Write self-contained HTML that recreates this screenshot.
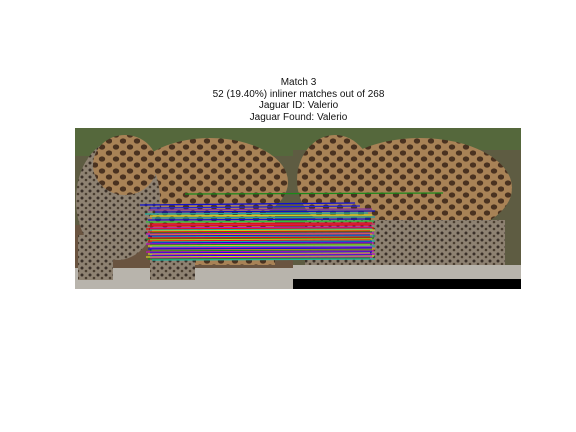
<!DOCTYPE html>
<html><head><meta charset="utf-8"><style>
html,body{margin:0;padding:0;background:#fff}
#c{position:relative;width:576px;height:432px;background:#fff;font-family:"Liberation Sans",sans-serif}
.t{position:absolute;left:0;width:597px;text-align:center;font-size:10px;color:#111;line-height:11.5px}
</style></head><body>
<div id="c">
<div class="t" style="top:77px">Match 3<br>52 (19.40%) inliner matches out of 268<br>Jaguar ID: Valerio<br>Jaguar Found: Valerio</div>
<svg id="s" width="576" height="432" style="position:absolute;left:0;top:0">
<defs>
<pattern id="spots" width="14" height="12" patternUnits="userSpaceOnUse">
<rect width="14" height="12" fill="#a88256"/>
<ellipse cx="4" cy="3" rx="3.2" ry="2.6" fill="#4a3220"/>
<ellipse cx="11" cy="9" rx="3.2" ry="2.6" fill="#4a3220"/>
</pattern>
<pattern id="spots2" width="8" height="7" patternUnits="userSpaceOnUse">
<rect width="8" height="7" fill="#8e8272"/><circle cx="2" cy="2" r="1.5" fill="#3a3028"/><circle cx="6" cy="5" r="1.3" fill="#4a3e30"/>
</pattern>
</defs>
<g>
<rect x="75" y="128" width="218" height="161" fill="#5e5c42"/>
<rect x="75" y="128" width="218" height="28" fill="#55683c"/>
<rect x="75" y="225" width="218" height="45" fill="#6a5440"/>
<ellipse cx="210" cy="182" rx="78" ry="44" fill="url(#spots)"/>
<ellipse cx="118" cy="200" rx="42" ry="60" fill="url(#spots2)"/>
<ellipse cx="125" cy="165" rx="32" ry="30" fill="url(#spots)"/>
<rect x="150" y="215" width="125" height="50" fill="url(#spots)"/>
<rect x="75" y="268" width="218" height="21" fill="#b8b4ac"/>
<rect x="78" y="235" width="35" height="45" fill="url(#spots2)"/>
<rect x="150" y="245" width="45" height="35" fill="url(#spots2)"/>
</g>
<g>
<rect x="293" y="128" width="228" height="151" fill="#5e5c42"/>
<rect x="293" y="128" width="228" height="22" fill="#55683c"/>
<ellipse cx="420" cy="188" rx="92" ry="50" fill="url(#spots)"/>
<ellipse cx="335" cy="180" rx="38" ry="45" fill="url(#spots)"/>
<rect x="305" y="220" width="200" height="45" fill="url(#spots2)"/>
<rect x="293" y="265" width="228" height="14" fill="#b8b4ac"/>
<rect x="293" y="279" width="228" height="10" fill="#000"/>
</g>
<g id="lines"></g>
</svg>
</div>
<script>
const x1s=[185,140,150,148,155,145,150,152,148,146,150,152,148,150,146,150,152,148,150,146,150,148,152,150,146,150,148,152,150,146,150,148,152,150,148,152,150,146,150,148,152,150,146,150,148,152,150,148];
const y1s=[194,205,208,210,212,214,216,218,220,222,224,225,226,228,229,230,231,232,233,234,235,236,237,238,239,240,241,242,243,244,245,246,247,248,249,250,251,252,253,254,255,256,257,258,259,260,249,238];
const x2s=[443,355,360,372,375,368,372,375,370,374,372,375,370,372,374,372,375,370,372,374,372,370,375,372,374,372,370,375,372,374,372,370,375,372,370,375,372,374,372,370,375,372,374,372,370,375,372,370];
const y2s=[193,203,206,209,211,213,215,217,219,221,223,224,225,227,228,229,230,231,232,233,234,235,236,237,238,239,240,241,242,243,244,245,246,247,248,249,250,251,252,253,254,255,256,257,258,259,248,237];
const colors=["#1a8a1a","#1010d0","#2020e0","#8030a0","#1010c0","#20b0a0","#d0d020","#20a0a0","#1010d0","#30c040","#e01010","#d02060","#e01010","#c010c0","#e01010","#20b0a0","#d0d020","#e01010","#1a8a1a","#c010c0","#e09020","#1010d0","#20b0a0","#c010c0","#1a8a1a","#d0d020","#e01010","#20b0a0","#1010d0","#c010c0","#1a8a1a","#d0d020","#20a0a0","#c010c0","#1010d0","#e09020","#1a8a1a","#c010c0","#1010d0","#d0d020","#c010c0","#1010d0","#d0d020","#c010c0","#1a8a1a","#20b0a0","#1010d0","#e01010"];
const g=document.getElementById('lines');
for(let i=0;i<y1s.length;i++){
 const l=document.createElementNS('http://www.w3.org/2000/svg','line');
 
 
 l.setAttribute('x1',x1s[i]);l.setAttribute('y1',y1s[i]);
 l.setAttribute('x2',x2s[i]);l.setAttribute('y2',y2s[i]);
 l.setAttribute('stroke',colors[i%colors.length]);l.setAttribute('stroke-width','1.3');
 g.appendChild(l);
}
</script>
</body></html>
